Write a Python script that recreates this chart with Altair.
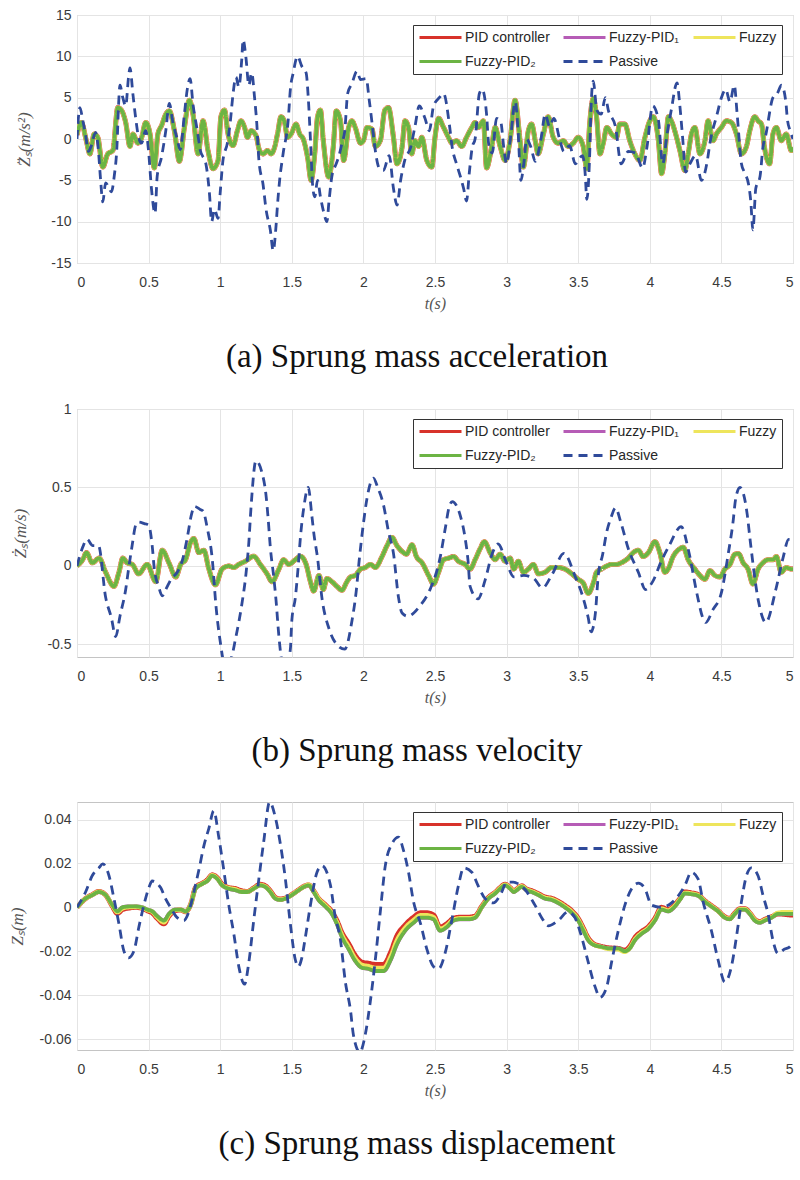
import altair as alt
import pandas as pd

# ---- series definitions -------------------------------------------------
SERIES = ["PID controller", "Fuzzy-PID\u2081", "Fuzzy", "Fuzzy-PID\u2082", "Passive"]
COLORS = ["#d8322a", "#b65cb6", "#eee55c", "#6cb444", "#2f4a9a"]
DASHES = [[1, 0], [1, 0], [1, 0], [1, 0], [9, 6]]
LINE_WIDTHS = [5.0, 4.0, 4.4, 3.8, 2.8]

X_TICKS = [0, 0.5, 1, 1.5, 2, 2.5, 3, 3.5, 4, 4.5, 5]

# ---- (a) sprung mass acceleration: (t [s], value [m/s^2]) ----------------
ACC_PASSIVE = [
    (0.00, 0.0), (0.02, 3.8), (0.04, 2.3), (0.06, 0.5), (0.08, -1.5), (0.10, -0.8),
    (0.13, 0.8), (0.15, -1.5), (0.165, -5.0), (0.18, -7.6), (0.20, -5.3), (0.22, -5.8),
    (0.24, -6.4), (0.26, -4.5), (0.28, -0.5), (0.29, 4.0), (0.30, 6.5), (0.32, 5.0),
    (0.34, 4.0), (0.36, 7.5), (0.37, 8.6), (0.39, 5.5), (0.41, 2.5), (0.43, 0.2),
    (0.45, -0.5), (0.48, 1.0), (0.50, -1.5), (0.52, -6.0), (0.545, -9.0), (0.56, -4.5),
    (0.59, -2.2), (0.62, 1.0), (0.645, 4.3), (0.67, 2.0), (0.70, 0.0), (0.72, -1.3),
    (0.75, 3.0), (0.77, 6.0), (0.79, 7.3), (0.81, 4.2), (0.84, 1.0), (0.86, -1.3),
    (0.90, -3.0), (0.925, -6.6), (0.94, -10.0), (0.96, -8.5), (0.985, -9.6), (1.00, -6.5),
    (1.02, -2.5), (1.05, -0.5), (1.07, 2.0), (1.09, 5.5), (1.11, 7.5), (1.13, 6.3),
    (1.15, 9.5), (1.16, 12.0), (1.18, 9.8), (1.20, 6.5), (1.22, 8.0), (1.24, 5.0),
    (1.255, 2.0), (1.27, -2.5), (1.30, -5.6), (1.32, -8.5), (1.35, -11.0), (1.37, -13.5),
    (1.39, -10.5), (1.40, -8.0), (1.415, -5.0), (1.44, -1.7), (1.475, 2.3), (1.49, 6.0),
    (1.51, 8.0), (1.54, 10.0), (1.57, 8.8), (1.60, 8.0), (1.615, 5.0), (1.63, 0.0),
    (1.645, -5.5), (1.66, -7.0), (1.68, -5.0), (1.70, -7.0), (1.725, -9.0), (1.745, -10.0),
    (1.76, -7.5), (1.78, -4.5), (1.81, -3.0), (1.83, -2.0), (1.85, -0.5), (1.87, 1.0),
    (1.89, 5.5), (1.92, 6.7), (1.955, 8.2), (1.98, 7.2), (2.02, 7.3), (2.04, 4.8),
    (2.06, 2.0), (2.08, -1.0), (2.11, -3.5), (2.14, -3.8), (2.18, -2.0), (2.21, -6.0),
    (2.235, -8.0), (2.26, -5.0), (2.29, -2.5), (2.33, -1.0), (2.36, 1.5), (2.39, 4.0),
    (2.43, 2.5), (2.46, 1.0), (2.49, 4.0), (2.53, 5.0), (2.56, 5.5), (2.60, 1.8),
    (2.62, -1.0), (2.65, -3.0), (2.68, -4.7), (2.70, -6.0), (2.72, -7.5), (2.74, -4.0),
    (2.76, -1.0), (2.78, 0.0), (2.81, 5.5), (2.83, 6.0), (2.86, 3.0), (2.875, -0.6),
    (2.90, -1.7), (2.93, 2.5), (2.96, 2.0), (2.98, -1.0), (3.00, -3.0), (3.03, 0.5),
    (3.06, 4.5), (3.08, 1.0), (3.10, -5.0), (3.12, -3.0), (3.14, 0.0), (3.17, -1.0),
    (3.20, -2.7), (3.24, 0.0), (3.27, 3.0), (3.30, 1.5), (3.33, 2.5), (3.37, 0.0),
    (3.40, -1.5), (3.44, -0.8), (3.48, -3.0), (3.53, -2.0), (3.55, -4.5), (3.56, -7.3),
    (3.58, -2.0), (3.59, 4.0), (3.605, 7.0), (3.63, 3.5), (3.66, 3.0), (3.69, 5.0),
    (3.71, 3.5), (3.76, 1.5), (3.80, -3.0), (3.85, -1.5), (3.90, -1.7), (3.95, -3.5),
    (3.98, -1.0), (4.02, 4.0), (4.06, 2.3), (4.09, -3.0), (4.12, 0.5), (4.15, 3.5),
    (4.19, 6.8), (4.21, 4.0), (4.23, 0.0), (4.25, -4.0), (4.28, -3.0), (4.32, -2.0),
    (4.36, -5.0), (4.40, -2.8), (4.42, -0.5), (4.47, 3.0), (4.50, 5.0), (4.53, 6.0),
    (4.56, 4.5), (4.59, 6.5), (4.61, 3.0), (4.64, -3.0), (4.66, -4.0), (4.69, -5.5),
    (4.705, -7.5), (4.72, -11.0), (4.74, -6.0), (4.77, -4.5), (4.79, -1.0), (4.81, 0.5),
    (4.86, 5.0), (4.89, 5.5), (4.92, 6.5), (4.95, 4.5), (4.96, 2.5), (4.98, 1.0),
    (5.00, 0.0),
]

# the four controlled responses lie on top of each other in this panel
ACC_CONTROLLED = [
    (0.0, 0.5), (0.03, 2.0), (0.065, -0.2), (0.09, -1.8), (0.12, 0.6), (0.145, 0.2),
    (0.18, -3.4), (0.215, -1.8), (0.25, -1.4), (0.285, 3.8), (0.31, 3.5), (0.34, 2.0),
    (0.37, -0.9), (0.39, 0.6), (0.425, -0.5), (0.45, 0.1), (0.48, 2.0), (0.51, 0.6),
    (0.54, -3.5), (0.565, 0.6), (0.59, 1.6), (0.62, 3.0), (0.645, 3.4), (0.68, 1.0),
    (0.715, -2.7), (0.75, 1.4), (0.785, 4.7), (0.81, 3.0), (0.845, -1.8), (0.88, 2.2),
    (0.915, -1.4), (0.95, -3.6), (0.985, -2.6), (1.005, 2.7), (1.03, 3.5), (1.055, 0.6),
    (1.09, -0.8), (1.12, 1.0), (1.145, 2.2), (1.17, 1.4), (1.19, 0.2), (1.215, 1.0),
    (1.25, 0.4), (1.275, -1.4), (1.3, -1.8), (1.33, -1.4), (1.355, -1.8), (1.38, -1.0),
    (1.4, 0.6), (1.425, 2.7), (1.45, 2.0), (1.47, 0.2), (1.495, 0.6), (1.53, 1.8),
    (1.555, 0.6), (1.58, 0.0), (1.61, -2.2), (1.635, -5.0), (1.66, -1.8), (1.68, 2.7),
    (1.7, 3.5), (1.72, -0.2), (1.757, -4.6), (1.79, -0.9), (1.81, 3.4), (1.84, 2.2),
    (1.862, -2.6), (1.897, 1.4), (1.92, 2.2), (1.943, 1.4), (1.98, -0.5), (2.0, -0.2),
    (2.025, 1.4), (2.06, 1.2), (2.083, -0.9), (2.118, -0.2), (2.15, 3.5), (2.175, 3.8),
    (2.21, 0.2), (2.234, -3.0), (2.27, -1.0), (2.29, 2.2), (2.315, 1.4), (2.338, -1.8),
    (2.36, -0.2), (2.385, -0.9), (2.408, 0.2), (2.443, -2.6), (2.478, -3.4), (2.5, 0.2),
    (2.525, 2.5), (2.56, 1.4), (2.594, 0.2), (2.618, -0.5), (2.65, -0.2), (2.687, -0.9),
    (2.72, 0.2), (2.757, 1.4), (2.78, 2.0), (2.803, 1.4), (2.838, 2.2), (2.86, -3.5),
    (2.896, -0.9), (2.92, 1.4), (2.955, -0.9), (2.99, -2.6), (3.024, -0.2), (3.059, 4.7),
    (3.094, -0.2), (3.117, -3.4), (3.152, 1.0), (3.175, 1.8), (3.2, -0.2), (3.22, -1.8),
    (3.257, 0.6), (3.29, 2.7), (3.326, 0.2), (3.36, -0.5), (3.396, -0.2), (3.43, -0.9),
    (3.466, -0.5), (3.5, 0.2), (3.535, -0.9), (3.56, -3.6), (3.58, 1.8), (3.605, 4.9),
    (3.628, 2.7), (3.652, -1.8), (3.675, -0.5), (3.7, 1.4), (3.733, 0.6), (3.768, 0.2),
    (3.79, 1.8), (3.826, 1.8), (3.86, -0.2), (3.896, -1.8), (3.93, -2.6), (3.966, 0.2),
    (4.0, 2.2), (4.024, 2.7), (4.06, -0.2), (4.082, -4.2), (4.105, -1.8), (4.13, 2.7),
    (4.15, 2.2), (4.187, 0.2), (4.21, -1.4), (4.245, -3.8), (4.268, -1.8), (4.291, 0.6),
    (4.315, 1.4), (4.35, -1.8), (4.385, -0.2), (4.407, 2.2), (4.442, -0.2), (4.465, 0.6),
    (4.5, 1.4), (4.535, 2.2), (4.57, 2.0), (4.605, 0.6), (4.64, -1.8), (4.675, -0.9),
    (4.698, 1.0), (4.733, 2.7), (4.756, 2.2), (4.78, 1.8), (4.8, -0.9), (4.837, -3.0),
    (4.86, 0.6), (4.884, 1.4), (4.918, -0.2), (4.953, 0.6), (4.988, -1.4), (5.0, -1.0),
]

# ---- (b) sprung mass velocity: (t [s], value [m/s]) -----------------------
VEL_PASSIVE = [
    (0.00, 0.0), (0.04, 0.12), (0.07, 0.17), (0.11, 0.13), (0.15, 0.13), (0.20, -0.2),
    (0.24, -0.33), (0.27, -0.45), (0.30, -0.32), (0.34, -0.15), (0.36, -0.02), (0.385, 0.13),
    (0.41, 0.26), (0.43, 0.28), (0.47, 0.27), (0.50, 0.26), (0.525, 0.13), (0.54, -0.02),
    (0.57, -0.13), (0.595, -0.19), (0.62, -0.15), (0.66, -0.08), (0.70, -0.04), (0.74, 0.05),
    (0.77, 0.18), (0.80, 0.33), (0.82, 0.38), (0.86, 0.36), (0.88, 0.35), (0.91, 0.24),
    (0.945, 0.04), (0.97, -0.25), (1.00, -0.48), (1.03, -0.62), (1.07, -0.6), (1.11, -0.45),
    (1.15, -0.25), (1.18, -0.05), (1.20, 0.15), (1.215, 0.37), (1.25, 0.67), (1.29, 0.6),
    (1.32, 0.45), (1.335, 0.3), (1.35, 0.12), (1.375, -0.08), (1.39, -0.22), (1.41, -0.45),
    (1.43, -0.6), (1.46, -0.65), (1.49, -0.53), (1.50, -0.35), (1.525, -0.2), (1.545, 0.0),
    (1.56, 0.18), (1.585, 0.38), (1.615, 0.5), (1.64, 0.32), (1.655, 0.2), (1.68, 0.05),
    (1.71, -0.2), (1.76, -0.4), (1.805, -0.49), (1.87, -0.53), (1.92, -0.35), (1.95, -0.16),
    (1.97, 0.03), (2.00, 0.27), (2.025, 0.43), (2.07, 0.56), (2.10, 0.5), (2.14, 0.39),
    (2.175, 0.22), (2.21, 0.08), (2.245, -0.2), (2.27, -0.3), (2.31, -0.32), (2.39, -0.26),
    (2.47, -0.14), (2.51, -0.04), (2.535, 0.05), (2.57, 0.23), (2.60, 0.38), (2.62, 0.41),
    (2.68, 0.31), (2.71, 0.18), (2.73, 0.04), (2.745, -0.13), (2.80, -0.21), (2.85, -0.09),
    (2.90, 0.08), (2.94, 0.14), (3.00, 0.02), (3.05, -0.07), (3.12, -0.06), (3.19, -0.08),
    (3.25, -0.14), (3.32, -0.05), (3.40, 0.08), (3.48, -0.07), (3.53, -0.19), (3.57, -0.33),
    (3.59, -0.42), (3.62, -0.3), (3.64, -0.06), (3.67, 0.07), (3.70, 0.22), (3.73, 0.31),
    (3.76, 0.37), (3.80, 0.27), (3.85, 0.11), (3.92, -0.04), (3.97, -0.15), (4.02, -0.1),
    (4.08, 0.03), (4.13, 0.12), (4.22, 0.25), (4.27, 0.1), (4.33, -0.18), (4.37, -0.33),
    (4.39, -0.36), (4.44, -0.28), (4.50, -0.17), (4.55, 0.09), (4.58, 0.27), (4.60, 0.43),
    (4.63, 0.5), (4.68, 0.33), (4.70, 0.17), (4.76, -0.23), (4.81, -0.36), (4.88, -0.15),
    (4.93, 0.05), (4.97, 0.17), (5.00, 0.17),
]

VEL_CONTROLLED = [
    (0.0, 0.0), (0.04, 0.04), (0.066, 0.085), (0.107, 0.02), (0.155, 0.05), (0.2, -0.04),
    (0.258, -0.13), (0.293, -0.04), (0.32, 0.05), (0.35, 0.02), (0.386, 0.01), (0.43, -0.05),
    (0.49, 0.01), (0.55, -0.1), (0.595, 0.1), (0.642, 0.02), (0.69, -0.07), (0.724, 0.01),
    (0.758, 0.04), (0.793, 0.15), (0.816, 0.175), (0.851, 0.085), (0.886, 0.1), (0.921, -0.02),
    (0.967, -0.12), (1.013, -0.02), (1.06, 0.0), (1.095, -0.01), (1.13, 0.01), (1.176, 0.03),
    (1.234, 0.062), (1.28, 0.01), (1.327, -0.05), (1.362, -0.1), (1.41, -0.02), (1.443, 0.04),
    (1.478, 0.01), (1.525, 0.04), (1.56, 0.062), (1.6, 0.01), (1.63, -0.1), (1.653, -0.16),
    (1.69, -0.06), (1.72, -0.15), (1.745, -0.08), (1.78, -0.1), (1.815, -0.13), (1.85, -0.155),
    (1.885, -0.1), (1.91, -0.07), (1.944, -0.06), (1.98, -0.02), (2.013, -0.01), (2.05, 0.01),
    (2.083, -0.01), (2.13, 0.06), (2.165, 0.13), (2.2, 0.182), (2.234, 0.13), (2.28, 0.085),
    (2.3, 0.075), (2.34, 0.135), (2.37, 0.06), (2.41, 0.02), (2.455, -0.06), (2.49, -0.115),
    (2.525, -0.04), (2.56, 0.04), (2.595, 0.05), (2.63, 0.06), (2.664, 0.03), (2.71, 0.01),
    (2.745, -0.02), (2.78, 0.04), (2.815, 0.11), (2.845, 0.155), (2.885, 0.085), (2.92, 0.04),
    (2.955, 0.075), (2.99, 0.03), (3.025, 0.05), (3.05, -0.02), (3.082, 0.03), (3.117, -0.04),
    (3.152, -0.02), (3.187, 0.01), (3.222, -0.05), (3.268, -0.04), (3.315, -0.01), (3.36, -0.01),
    (3.408, -0.02), (3.455, -0.05), (3.5, -0.085), (3.536, -0.11), (3.57, -0.175), (3.605, -0.11),
    (3.628, -0.04), (3.663, -0.02), (3.7, 0.0), (3.733, 0.01), (3.768, 0.01), (3.8, 0.02),
    (3.85, 0.05), (3.884, 0.085), (3.92, 0.1), (3.954, 0.06), (3.99, 0.085), (4.036, 0.155),
    (4.07, 0.085), (4.105, -0.04), (4.128, -0.02), (4.163, 0.06), (4.21, 0.11), (4.233, 0.12),
    (4.268, 0.04), (4.315, -0.02), (4.35, -0.06), (4.385, -0.085), (4.42, -0.03), (4.454, -0.06),
    (4.49, -0.07), (4.524, -0.02), (4.56, 0.01), (4.594, 0.075), (4.62, 0.078), (4.652, 0.02),
    (4.686, -0.02), (4.72, -0.115), (4.756, -0.02), (4.79, 0.02), (4.826, 0.04), (4.86, 0.04),
    (4.884, 0.06), (4.918, -0.04), (4.953, -0.01), (4.988, -0.02), (5.0, -0.02),
]

# ---- (c) sprung mass displacement: (t [s], value [m]) ---------------------
DISP_PASSIVE = [
    (0.0, 0.0), (0.06, 0.007), (0.107, 0.0145), (0.153, 0.018), (0.18, 0.0198), (0.223, 0.0145),
    (0.258, 0.004), (0.293, -0.0076), (0.328, -0.02), (0.36, -0.023), (0.397, -0.02), (0.432, -0.009),
    (0.467, 0.001), (0.502, 0.009), (0.525, 0.012), (0.584, 0.009), (0.618, 0.004), (0.653, 0.0),
    (0.7, -0.0047), (0.746, -0.006), (0.781, -0.002), (0.816, 0.007), (0.851, 0.017), (0.886, 0.028),
    (0.921, 0.036), (0.955, 0.044), (0.99, 0.032), (1.025, 0.017), (1.06, 0.001), (1.095, -0.012),
    (1.13, -0.027), (1.17, -0.035), (1.2, -0.025), (1.234, -0.006), (1.27, 0.013), (1.304, 0.03),
    (1.345, 0.048), (1.385, 0.041), (1.42, 0.029), (1.455, 0.013), (1.49, -0.0076), (1.525, -0.024),
    (1.545, -0.027), (1.57, -0.023), (1.595, -0.0135), (1.63, 0.001), (1.676, 0.016), (1.71, 0.019),
    (1.77, 0.01), (1.8, -0.003), (1.84, -0.015), (1.874, -0.034), (1.91, -0.047), (1.93, -0.058),
    (1.975, -0.066), (2.013, -0.058), (2.048, -0.043), (2.083, -0.024), (2.118, -0.002), (2.153, 0.019),
    (2.2, 0.029), (2.245, 0.032), (2.28, 0.026), (2.315, 0.016), (2.35, 0.0026), (2.4, -0.0076),
    (2.443, -0.019), (2.49, -0.027), (2.525, -0.028), (2.57, -0.021), (2.617, -0.006), (2.664, 0.01),
    (2.7, 0.018), (2.757, 0.016), (2.8, 0.01), (2.85, 0.004), (2.907, 0.002), (2.966, 0.007),
    (3.0, 0.0115), (3.047, 0.0115), (3.082, 0.0107), (3.13, 0.008), (3.198, 0.001), (3.245, -0.0047),
    (3.291, -0.0084), (3.36, -0.006), (3.43, -0.002), (3.477, -0.0047), (3.524, -0.0135), (3.57, -0.025),
    (3.617, -0.036), (3.652, -0.041), (3.7, -0.036), (3.733, -0.025), (3.78, -0.0106), (3.826, 0.001),
    (3.873, 0.0085), (3.92, 0.011), (3.966, 0.0085), (4.012, 0.001), (4.082, 0.0), (4.152, 0.002),
    (4.245, 0.01), (4.29, 0.016), (4.337, 0.013), (4.372, 0.0026), (4.43, -0.0106), (4.477, -0.024),
    (4.524, -0.034), (4.57, -0.027), (4.605, -0.0135), (4.64, 0.0026), (4.675, 0.0144), (4.709, 0.018),
    (4.756, 0.0144), (4.79, 0.0056), (4.826, -0.003), (4.86, -0.015), (4.895, -0.021), (4.942, -0.019),
    (4.977, -0.018), (5.0, -0.016),
]

DISP_PID = [
    (0.0, 0.0), (0.06, 0.004), (0.107, 0.0058), (0.153, 0.0072), (0.2, 0.0056), (0.247, 0.0005),
    (0.282, -0.0028), (0.317, -0.001), (0.363, -0.0003), (0.41, 0.0), (0.456, -0.0005), (0.49, -0.0015),
    (0.525, -0.0025), (0.56, -0.005), (0.607, -0.0075), (0.642, -0.004), (0.688, -0.0015), (0.724, -0.0012),
    (0.758, -0.002), (0.793, 0.0012), (0.828, 0.009), (0.875, 0.011), (0.91, 0.0125), (0.944, 0.0148),
    (0.979, 0.0135), (1.014, 0.0105), (1.06, 0.009), (1.107, 0.0085), (1.153, 0.0075), (1.188, 0.0072),
    (1.234, 0.0088), (1.28, 0.0105), (1.315, 0.0098), (1.35, 0.0075), (1.385, 0.0045), (1.42, 0.0038),
    (1.455, 0.0042), (1.5, 0.0058), (1.548, 0.008), (1.583, 0.0095), (1.618, 0.0102), (1.653, 0.0075),
    (1.687, 0.004), (1.734, 0.0012), (1.78, -0.002), (1.815, -0.006), (1.85, -0.0115), (1.897, -0.0165),
    (1.944, -0.022), (1.99, -0.025), (2.036, -0.0255), (2.083, -0.026), (2.141, -0.026), (2.19, -0.0205),
    (2.234, -0.013), (2.292, -0.008), (2.35, -0.0045), (2.4, -0.0025), (2.443, -0.0025), (2.49, -0.0035),
    (2.536, -0.009), (2.582, -0.0075), (2.63, -0.005), (2.675, -0.0045), (2.733, -0.0045), (2.78, -0.004),
    (2.827, 0.0005), (2.873, 0.0045), (2.92, 0.0068), (2.955, 0.009), (2.99, 0.0105), (3.025, 0.009),
    (3.05, 0.0075), (3.07, 0.0083), (3.105, 0.0098), (3.14, 0.0083), (3.175, 0.0076), (3.222, 0.0062),
    (3.268, 0.0047), (3.315, 0.0041), (3.36, 0.0028), (3.408, 0.0008), (3.455, -0.0016), (3.5, -0.005),
    (3.536, -0.0095), (3.57, -0.014), (3.605, -0.0165), (3.663, -0.0178), (3.721, -0.0185), (3.78, -0.0187),
    (3.826, -0.0195), (3.86, -0.0178), (3.896, -0.0138), (3.943, -0.011), (3.99, -0.0088), (4.036, -0.005),
    (4.082, 0.0), (4.128, -0.001), (4.175, 0.0012), (4.21, 0.004), (4.245, 0.007), (4.29, 0.0066),
    (4.337, 0.0058), (4.384, 0.003), (4.43, 0.0008), (4.477, -0.0015), (4.524, -0.0043), (4.558, -0.005),
    (4.594, -0.0026), (4.63, -0.0006), (4.663, -0.0006), (4.698, -0.0025), (4.733, -0.0055), (4.768, -0.0065),
    (4.803, -0.0055), (4.85, -0.0043), (4.895, -0.003), (4.942, -0.0032), (4.988, -0.0035), (5.0, -0.0035),
]

DISP_FUZZY = [
    (0.0, 0.0), (0.06, 0.004), (0.107, 0.0057), (0.153, 0.0071), (0.2, 0.0056), (0.247, 0.0008),
    (0.282, -0.0022), (0.317, -0.0005), (0.363, 0.0001), (0.41, 0.0002), (0.456, -0.0002), (0.49, -0.0012),
    (0.525, -0.002), (0.56, -0.0045), (0.607, -0.0068), (0.642, -0.0035), (0.688, -0.0012), (0.724, -0.0011),
    (0.758, -0.0019), (0.793, 0.0011), (0.828, 0.0088), (0.875, 0.0108), (0.91, 0.0122), (0.944, 0.0146),
    (0.979, 0.0132), (1.014, 0.0102), (1.06, 0.0088), (1.107, 0.0082), (1.153, 0.0072), (1.188, 0.0071),
    (1.234, 0.0086), (1.28, 0.0102), (1.315, 0.0095), (1.35, 0.0072), (1.385, 0.0042), (1.42, 0.0036),
    (1.455, 0.0041), (1.5, 0.0057), (1.548, 0.0079), (1.583, 0.0094), (1.618, 0.0103), (1.653, 0.0074),
    (1.687, 0.0039), (1.734, 0.0009), (1.78, -0.0025), (1.815, -0.0068), (1.85, -0.0125), (1.897, -0.0178),
    (1.944, -0.0233), (1.99, -0.0262), (2.036, -0.0268), (2.083, -0.0276), (2.141, -0.0276), (2.19, -0.0224),
    (2.234, -0.015), (2.292, -0.0093), (2.35, -0.0058), (2.4, -0.0036), (2.443, -0.0036), (2.49, -0.0045),
    (2.536, -0.0098), (2.582, -0.0083), (2.63, -0.0055), (2.675, -0.005), (2.733, -0.005), (2.78, -0.0044),
    (2.827, 0.0002), (2.873, 0.0042), (2.92, 0.0066), (2.955, 0.0088), (2.99, 0.0103), (3.025, 0.0088),
    (3.05, 0.0073), (3.07, 0.0081), (3.105, 0.0096), (3.14, 0.0081), (3.175, 0.0073), (3.222, 0.0059),
    (3.268, 0.0044), (3.315, 0.0038), (3.36, 0.0024), (3.408, 0.0004), (3.455, -0.002), (3.5, -0.0055),
    (3.536, -0.01), (3.57, -0.0145), (3.605, -0.0168), (3.663, -0.0181), (3.721, -0.019), (3.78, -0.0192),
    (3.826, -0.0203), (3.86, -0.0185), (3.896, -0.0146), (3.943, -0.0116), (3.99, -0.0094), (4.036, -0.0056),
    (4.082, -0.0006), (4.128, -0.0014), (4.175, 0.0008), (4.21, 0.0037), (4.245, 0.0066), (4.29, 0.0063),
    (4.337, 0.0056), (4.384, 0.0028), (4.43, 0.0006), (4.477, -0.0017), (4.524, -0.0045), (4.558, -0.0052),
    (4.594, -0.0028), (4.63, -0.0008), (4.663, -0.0008), (4.698, -0.0027), (4.733, -0.0057), (4.768, -0.0067),
    (4.803, -0.0057), (4.85, -0.0045), (4.895, -0.0025), (4.942, -0.0022), (4.988, -0.0022), (5.0, -0.0022),
]

# Fuzzy-PID1 and Fuzzy-PID2 coincide in the displacement response
DISP_FUZZY_PID = [
    (0.0, 0.0), (0.06, 0.004), (0.107, 0.0056), (0.153, 0.007), (0.2, 0.0056), (0.247, 0.001),
    (0.282, -0.0018), (0.317, 0.0), (0.363, 0.0004), (0.41, 0.0004), (0.456, 0.0), (0.49, -0.001),
    (0.525, -0.0018), (0.56, -0.004), (0.607, -0.006), (0.642, -0.003), (0.688, -0.001), (0.724, -0.001),
    (0.758, -0.0018), (0.793, 0.001), (0.828, 0.0085), (0.875, 0.0107), (0.91, 0.012), (0.944, 0.0144),
    (0.979, 0.013), (1.014, 0.01), (1.06, 0.0085), (1.107, 0.0078), (1.153, 0.007), (1.188, 0.007),
    (1.234, 0.0085), (1.28, 0.01), (1.315, 0.0093), (1.35, 0.007), (1.385, 0.004), (1.42, 0.0034),
    (1.455, 0.004), (1.5, 0.0056), (1.548, 0.0078), (1.583, 0.0093), (1.618, 0.01), (1.653, 0.007),
    (1.687, 0.0034), (1.734, 0.0004), (1.78, -0.003), (1.815, -0.0076), (1.85, -0.0135), (1.897, -0.019),
    (1.944, -0.0245), (1.99, -0.0275), (2.036, -0.028), (2.083, -0.029), (2.141, -0.029), (2.19, -0.024),
    (2.234, -0.0168), (2.292, -0.0106), (2.35, -0.007), (2.4, -0.0047), (2.443, -0.0047), (2.49, -0.0054),
    (2.536, -0.0106), (2.582, -0.009), (2.63, -0.006), (2.675, -0.0054), (2.733, -0.0054), (2.78, -0.0047),
    (2.827, 0.0), (2.873, 0.004), (2.92, 0.0063), (2.955, 0.0085), (2.99, 0.01), (3.025, 0.0085),
    (3.05, 0.007), (3.07, 0.0078), (3.105, 0.0093), (3.14, 0.0078), (3.175, 0.007), (3.222, 0.0056),
    (3.268, 0.004), (3.315, 0.0034), (3.36, 0.002), (3.408, 0.0), (3.455, -0.0025), (3.5, -0.006),
    (3.536, -0.0106), (3.57, -0.015), (3.605, -0.017), (3.663, -0.018), (3.721, -0.0187), (3.78, -0.0187),
    (3.826, -0.02), (3.86, -0.0187), (3.896, -0.015), (3.943, -0.012), (3.99, -0.0098), (4.036, -0.006),
    (4.082, -0.001), (4.128, -0.0018), (4.175, 0.0004), (4.21, 0.0034), (4.245, 0.0063), (4.29, 0.006),
    (4.337, 0.0053), (4.384, 0.0026), (4.43, 0.0004), (4.477, -0.0018), (4.524, -0.0047), (4.558, -0.0054),
    (4.594, -0.003), (4.63, -0.001), (4.663, -0.001), (4.698, -0.003), (4.733, -0.006), (4.768, -0.007),
    (4.803, -0.006), (4.85, -0.0047), (4.895, -0.003), (4.942, -0.003), (4.988, -0.003), (5.0, -0.003),
]


def long_table(curves):
    rows = []
    for name, pairs in zip(SERIES, curves):
        rows += [{"t": t, "v": v, "series": name} for t, v in pairs]
    return pd.DataFrame(rows)


LEGEND = alt.Legend(
    title=None, orient="none", legendX=336, legendY=10, columns=3, direction="horizontal",
    symbolType="stroke", symbolSize=1764, symbolStrokeWidth=3,
    labelFont="Liberation Sans", labelFontSize=14, labelColor="#262626",
    labelOffset=2, strokeColor="#333333", fillColor="white",
    padding=5, rowPadding=9, columnPadding=12, clipHeight=15, cornerRadius=0,
)


def panel(curves, y_title, y_domain, y_ticks, caption, title_pad):
    df = long_table(curves)
    x = alt.X("t:Q", scale=alt.Scale(domain=[0, 5], nice=False, zero=False),
              axis=alt.Axis(values=X_TICKS, labelExpr="'' + datum.value", title="t(s)",
                            labelPadding=12, titlePadding=6, titleFontSize=16))
    y = alt.Y("v:Q", scale=alt.Scale(domain=y_domain, nice=False, zero=False),
              axis=alt.Axis(values=y_ticks, labelExpr="'' + datum.value", title=y_title,
                            labelPadding=6, titlePadding=title_pad, titleFontSize=17))
    color = alt.Color("series:N", scale=alt.Scale(domain=SERIES, range=COLORS), legend=LEGEND)
    dash = alt.StrokeDash("series:N", scale=alt.Scale(domain=SERIES, range=DASHES), legend=LEGEND)
    layers = [
        alt.Chart(df)
        .transform_filter(alt.datum.series == name)
        .mark_line(strokeWidth=w, clip=True, interpolate="monotone")
        .encode(x=x, y=y, color=color, strokeDash=dash)
        for name, w in zip(SERIES, LINE_WIDTHS)
    ]
    return alt.layer(*layers).properties(
        width=716, height=248,
        title=alt.TitleParams(caption, orient="bottom", anchor="middle", frame="group", dx=-18,
                              font="Liberation Serif", fontSize=33, fontWeight="normal",
                              color="#111111", offset=30),
    )


def independent(c):
    return (c.resolve_scale(color="independent", strokeDash="independent")
             .resolve_legend(color="independent", strokeDash="independent"))


acc = panel([ACC_CONTROLLED] * 4 + [ACC_PASSIVE], "Z\u0308\u209b(m/s\u00b2)",
            [-15, 15], [-15, -10, -5, 0, 5, 10, 15], "(a) Sprung mass acceleration", 17)
vel = panel([VEL_CONTROLLED] * 4 + [VEL_PASSIVE], "\u017b\u209b(m/s)",
            [-0.58, 1], [-0.5, 0, 0.5, 1], "(b) Sprung mass velocity", 17)
disp = panel([DISP_PID, DISP_FUZZY_PID, DISP_FUZZY, DISP_FUZZY_PID, DISP_PASSIVE], "Z\u209b(m)",
             [-0.065, 0.048], [-0.06, -0.04, -0.02, 0, 0.02, 0.04], "(c) Sprung mass displacement", 13)

top_pair = independent(alt.vconcat(acc, vel, spacing=26))
chart = (
    independent(alt.vconcat(top_pair, disp, spacing=32))
    .properties(padding={"left": 7, "top": 7, "right": 0, "bottom": 4})
    .configure(background="white")
    .configure_view(stroke="#c4c4c4", strokeWidth=1)
    .configure_axis(
        grid=True, gridColor="#e4e4e4", gridWidth=1, domain=False, ticks=False,
        labelFont="Liberation Sans", labelFontSize=14, labelColor="#3a3a3a",
        titleFont="Liberation Serif", titleFontStyle="italic", titleFontWeight="normal",
        titleColor="#555555",
    )
)

chart.save("out.html", embed_options={"renderer": "svg", "actions": False})
